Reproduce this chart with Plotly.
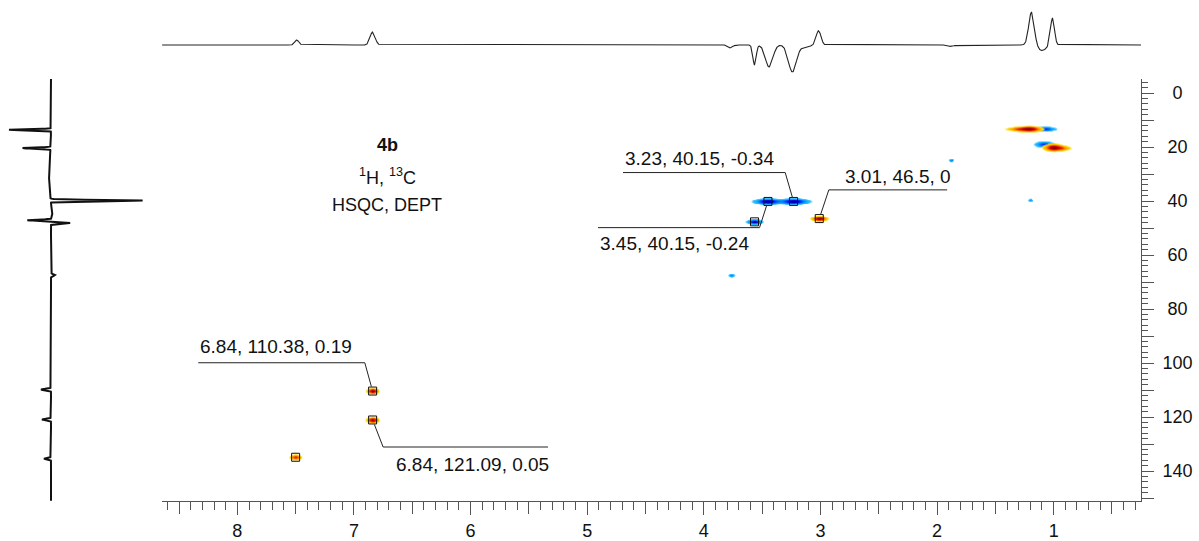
import numpy as np
import plotly.graph_objects as go

W, H = 1199, 541
FONT = "Liberation Sans, Arial, sans-serif"

# ---------------- axis limits (ppm) ----------------
h_range = [8.646, 0.251]      # 1H, reversed
c_range = [151.1, -5.2]       # 13C, reversed (0 at top)

# ---------------- 1H projection (top trace) ----------------
proj_h_pos = [7.49, 6.84, 3.77, 3.565, 3.44, 3.24, 3.13, 3.016, 1.88, 1.19, 1.10, 1.01]
proj_h_amp = [5.0, 13.0, -3.0, -20.0, -22.0, -27.0, -2.5, 14.3, -1.5, 33.0, -5.5, 27.0]
proj_h_wid = [0.025, 0.031, 0.025, 0.02, 0.045, 0.048, 0.05, 0.029, 0.03, 0.033, 0.05, 0.024]

# ---------------- 13C projection (left trace) ----------------
proj_c_pos = [13.6, 20.4, 30.0, 39.8, 44.0, 47.1, 48.1, 67.4, 109.8, 120.9, 135.4]
proj_c_amp = [42.0, 28.0, 2.0, -92.0, -1.5, 24.0, -19.0, -4.0, 10.0, 9.0, 7.0]
proj_c_wid = [0.28, 0.28, 8.0, 0.3, 2.5, 0.3, 0.3, 0.4, 0.35, 0.35, 0.35]

# ---------------- HSQC cross peaks (positive: CH/CH3, negative: CH2) ----------------
xp_h   = [1.21, 1.30, 1.07, 1.00, 0.93, 1.08, 1.20, 1.877, 3.45, 3.23, 3.565, 3.01, 3.762, 6.84, 6.84, 7.50]
xp_c   = [13.3, 13.3, 13.3, 20.2, 20.4, 19.0, 39.7, 24.9, 40.15, 40.15, 47.7, 46.5, 67.6, 110.38, 121.09, 134.9]
xp_amp = [1.0, 0.35, -0.6, 1.0, 0.3, -0.6, -0.3, -0.35, -1.0, -1.0, -0.9, 1.0, -0.35, 1.0, 0.95, 0.55]
xp_wh  = [0.07, 0.08, 0.06, 0.055, 0.06, 0.055, 0.015, 0.015, 0.077, 0.085, 0.042, 0.043, 0.02, 0.032, 0.034, 0.034]
xp_wc  = [0.75, 0.6, 0.6, 0.93, 0.7, 0.8, 0.4, 0.4, 0.75, 0.75, 0.65, 0.65, 0.5, 0.75, 0.75, 0.7]

# ---------------- picked peaks and labels ----------------
pick_h = [3.23, 3.01, 3.45, 6.84, 6.84, 3.565, 7.50]
pick_c = [40.15, 46.5, 40.15, 110.38, 121.09, 47.7, 134.9]
label_h = [3.23, 3.01, 3.45, 6.84, 6.84]
label_c = [40.15, 46.5, 40.15, 110.38, 121.09]
label_i = [-0.34, 0, -0.24, 0.19, 0.05]

x_tick_vals = [1, 2, 3, 4, 5, 6, 7, 8]
y_tick_vals = [0, 20, 40, 60, 80, 100, 120, 140]

# ---------------- layout geometry ----------------
x_dom = [162 / W, 1141 / W]
y_dom = [1 - 501 / H, 1 - 79 / H]
top_dom = [1 - 80 / H, 1 - 5 / H]
left_dom = [0, 160 / W]

px_per_h = (x_dom[1] - x_dom[0]) * W / (h_range[0] - h_range[1])
px_per_c = (y_dom[1] - y_dom[0]) * H / (c_range[0] - c_range[1])

# label placement: text anchor (h, c), underline level, underline ends (far end, bend)
label_layout = [
    dict(text=(4.693, 24.3), line_c=29.45, far=4.693, bend=3.302),
    dict(text=(2.808, 30.8), line_c=35.87, far=1.913, bend=2.928),
    dict(text=(4.907, 55.6), line_c=49.85, far=4.907, bend=3.522),
    dict(text=(8.335, 94.0), line_c=99.9, far=8.335, bend=6.907),
    dict(text=(6.655, 137.5), line_c=131.1, far=5.336, bend=6.75),
]

fig = go.Figure()

# ---------------- 2D cross peak fields (negative and positive drawn separately) ----------------
def field(hh, cc, sign):
    hg, cg = np.meshgrid(hh, cc)
    z = np.zeros_like(hg)
    for h0, c0, a, wh, wc in zip(xp_h, xp_c, xp_amp, xp_wh, xp_wc):
        if a * sign > 0:
            z += abs(a) * np.exp(-(np.abs(hg - h0) / wh) ** 1.8 - ((cg - c0) / wc) ** 2)
    return z

neg_scale = [
    [0.0, "rgba(255,255,255,0)"],
    [0.035, "rgba(255,255,255,0)"],
    [0.045, "rgba(120,215,255,0.5)"],
    [0.07, "rgb(60,195,255)"],
    [0.25, "rgb(0,160,255)"],
    [0.5, "rgb(0,60,255)"],
    [0.75, "rgb(0,0,205)"],
    [1.0, "rgb(0,0,110)"],
]
pos_scale = [
    [0.0, "rgba(255,255,255,0)"],
    [0.035, "rgba(255,255,255,0)"],
    [0.045, "rgba(255,240,120,0.5)"],
    [0.07, "rgb(255,225,0)"],
    [0.25, "rgb(255,150,0)"],
    [0.5, "rgb(240,30,0)"],
    [0.75, "rgb(200,0,0)"],
    [1.0, "rgb(130,0,0)"],
]

patches = [
    (0.75, 1.6, 8, 27),
    (1.8, 1.95, 22, 28),
    (1.13, 1.27, 37, 43),
    (2.85, 3.85, 36, 71),
    (6.7, 7.65, 105, 139),
]
for sign, scale in [(-1, neg_scale), (1, pos_scale)]:
    for h0, h1, c0, c1 in patches:
        hh = np.arange(h0, h1, 0.004)
        cc = np.arange(c0, c1, 0.15)
        z = np.round(field(hh, cc, sign), 3)
        if z.max() < 0.03:
            continue
        fig.add_trace(go.Heatmap(
            x=np.round(hh, 4), y=np.round(cc, 3), z=z, zmin=0, zmax=1,
            colorscale=scale, showscale=False, zsmooth="best",
            hoverinfo="skip", xaxis="x", yaxis="y"))

# ---------------- picked peak squares ----------------
fig.add_trace(go.Scatter(
    x=pick_h, y=pick_c, mode="markers", xaxis="x", yaxis="y",
    marker=dict(symbol="square-open", size=8, color="#111", line=dict(width=1)),
    hoverinfo="skip", showlegend=False))

# ---------------- projections ----------------
hx = np.arange(h_range[1], h_range[0], 0.002)
hy = np.zeros_like(hx)
for p, a, w in zip(proj_h_pos, proj_h_amp, proj_h_wid):
    hy += a * np.exp(-((hx - p) / w) ** 2)
fig.add_trace(go.Scatter(x=hx, y=hy, mode="lines", xaxis="x2", yaxis="y2",
                         line=dict(color="#222", width=1.1), hoverinfo="skip",
                         showlegend=False))

cy = np.arange(c_range[1] - 0.5, c_range[0], 0.05)
cx = np.zeros_like(cy)
for p, a, w in zip(proj_c_pos, proj_c_amp, proj_c_wid):
    cx += a * np.exp(-((cy - p) / w) ** 2)
fig.add_trace(go.Scatter(x=cx, y=cy, mode="lines", xaxis="x3", yaxis="y3",
                         line=dict(color="#111", width=2), hoverinfo="skip",
                         showlegend=False))

# empty trace so the medium-tick overlay axes are instantiated
fig.add_trace(go.Scatter(x=[], y=[], xaxis="x4", yaxis="y4", hoverinfo="skip",
                         showlegend=False))

# ---------------- labels with leader lines ----------------
def fmt(v):
    return f"{v:g}"

def clip(bh, bc, ph, pc, half=4.5):
    dx = (ph - bh) * px_per_h
    dy = (pc - bc) * px_per_c
    m = max(abs(dx), abs(dy))
    t = 1 - half / m
    return bh + t * (ph - bh), bc + t * (pc - bc)

annotations = []
shapes = []
for lh, lc, li, lay in zip(label_h, label_c, label_i, label_layout):
    th, tc = lay["text"]
    annotations.append(dict(
        x=th, y=tc, xref="x", yref="y", xanchor="left", yanchor="middle",
        text=f"{fmt(lh)}, {fmt(lc)}, {fmt(li)}", showarrow=False,
        font=dict(family=FONT, size=19, color="#111")))
    eh, ec = clip(lay["bend"], lay["line_c"], lh, lc)
    shapes.append(dict(
        type="path", xref="x", yref="y",
        path=f"M {lay['far']},{lay['line_c']} L {lay['bend']},{lay['line_c']} L {eh},{ec}",
        line=dict(color="#222", width=1)))

# compound title block
for txt, py in [("<b>4b</b>", 145), ("<sup>1</sup>H, <sup>13</sup>C", 177), ("HSQC, DEPT", 205)]:
    annotations.append(dict(
        x=387 / W, y=1 - py / H, xref="paper", yref="paper",
        xanchor="center", yanchor="middle", text=txt, showarrow=False,
        font=dict(family=FONT, size=18, color="#111")))

axis_col = "#555"
# y labels are centred on a common column: pad shorter numbers with no-break spaces
y_tick_text = ["\u00a0" * (3 - len(str(v))) + str(v) for v in y_tick_vals]
x_tick_text = [str(v) for v in x_tick_vals]
x_half_ticks = [k + 0.5 for k in range(0, 9)]
y_half_ticks = list(range(10, 151, 20))

fig.update_layout(
    width=W, height=H, margin=dict(l=0, r=0, t=0, b=0),
    paper_bgcolor="white", plot_bgcolor="rgba(0,0,0,0)",
    showlegend=False,
    font=dict(family=FONT, size=18, color="#111"),
    xaxis=dict(
        domain=x_dom, range=h_range, anchor="y", showgrid=False, zeroline=False,
        showline=True, linecolor=axis_col, linewidth=1,
        ticks="outside", ticklen=13, tickcolor=axis_col, tickwidth=1,
        tickmode="array", tickvals=x_tick_vals, ticktext=x_tick_text,
        tickfont=dict(family=FONT, size=18, color="#111"),
        minor=dict(tickmode="array", tickvals=[round(0.1 * k, 1) for k in range(3, 87)],
                   ticks="outside", ticklen=8, tickcolor=axis_col, tickwidth=1,
                   showgrid=False),
    ),
    xaxis4=dict(
        overlaying="x", anchor="y", range=h_range, showgrid=False, zeroline=False,
        showline=False, ticks="outside", ticklen=12, tickcolor=axis_col, tickwidth=1,
        tickmode="array", tickvals=x_half_ticks, showticklabels=False,
    ),
    yaxis=dict(
        domain=y_dom, range=c_range, anchor="x", side="right", showgrid=False,
        zeroline=False, showline=True, linecolor=axis_col, linewidth=1,
        ticks="outside", ticklen=12, tickcolor=axis_col, tickwidth=1,
        tickmode="array", tickvals=y_tick_vals, ticktext=y_tick_text,
        tickfont=dict(family=FONT, size=18, color="#111"), ticklabelstandoff=5,
        minor=dict(tickmode="array", tickvals=list(range(-4, 151, 2)),
                   ticks="outside", ticklen=6, tickcolor=axis_col, tickwidth=1,
                   showgrid=False),
    ),
    yaxis4=dict(
        overlaying="y", anchor="x", side="right", range=c_range, showgrid=False,
        zeroline=False, showline=False, ticks="outside", ticklen=12,
        tickcolor=axis_col, tickwidth=1, tickmode="array", tickvals=y_half_ticks,
        showticklabels=False,
    ),
    xaxis2=dict(domain=x_dom, range=h_range, anchor="y2", visible=False),
    yaxis2=dict(domain=top_dom, range=[-35, 40], anchor="x2", visible=False),
    xaxis3=dict(domain=left_dom, range=[51, -109], anchor="y3", visible=False),
    yaxis3=dict(domain=y_dom, range=c_range, anchor="x3", visible=False),
    annotations=annotations,
    shapes=shapes,
)

fig.write_html("out.html")
